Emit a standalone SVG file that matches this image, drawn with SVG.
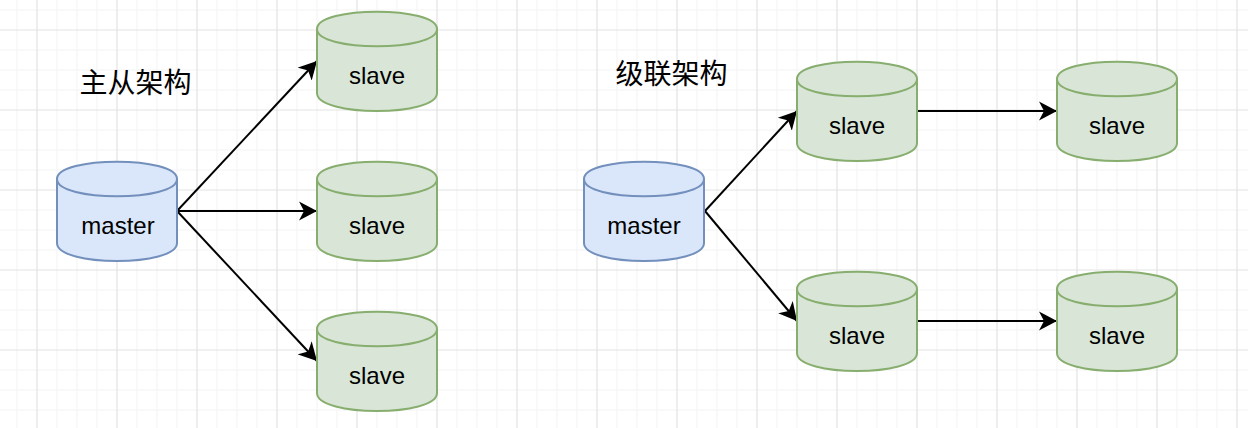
<svg xmlns="http://www.w3.org/2000/svg" width="1248" height="428" viewBox="0 0 1248 428">
<defs>
<style>
.minor{stroke:#f7f7f7;stroke-width:1.5;fill:none}
.major{stroke:#e3e3e3;stroke-width:1.2;fill:none}
.m{fill:#dae6f9;stroke:#7390bd;stroke-width:2}
.s{fill:#d9e6d7;stroke:#87ae6e;stroke-width:2}
.cyl-m{fill:none;stroke:#7390bd;stroke-width:2}
.cyl-s{fill:none;stroke:#87ae6e;stroke-width:2}
.l{font-family:"Liberation Sans",Arial,sans-serif;font-size:24px;fill:#000;text-anchor:middle}
.t{font-family:"Noto Sans CJK SC","Noto Sans",sans-serif;font-size:28px;fill:#000;text-anchor:middle}
.e{stroke:#000;stroke-width:2;fill:none;marker-end:url(#a)}
</style>
<marker id="a" markerUnits="userSpaceOnUse" markerWidth="20" markerHeight="20" viewBox="0 0 20 20" refX="18" refY="10" orient="auto"><path d="M0 0.500 L18 10 L0 19.500 L5 10 Z" fill="#000"/></marker>
</defs>
<rect width="1248" height="428" fill="#fff"/>
<path class="minor" d="M17 0V428M57 0V428M77 0V428M97 0V428M137 0V428M157 0V428M177 0V428M217 0V428M237 0V428M257 0V428M297 0V428M317 0V428M337 0V428M377 0V428M397 0V428M417 0V428M457 0V428M477 0V428M497 0V428M537 0V428M557 0V428M577 0V428M617 0V428M637 0V428M657 0V428M697 0V428M717 0V428M737 0V428M777 0V428M797 0V428M817 0V428M857 0V428M877 0V428M897 0V428M937 0V428M957 0V428M977 0V428M1017 0V428M1037 0V428M1057 0V428M1097 0V428M1117 0V428M1137 0V428M1177 0V428M1197 0V428M1217 0V428M0 10H1248M0 50H1248M0 70H1248M0 90H1248M0 130H1248M0 150H1248M0 170H1248M0 210H1248M0 230H1248M0 250H1248M0 290H1248M0 310H1248M0 330H1248M0 370H1248M0 390H1248M0 410H1248"/>
<path class="major" d="M37 0V428M117 0V428M197 0V428M277 0V428M357 0V428M437 0V428M517 0V428M597 0V428M677 0V428M757 0V428M837 0V428M917 0V428M997 0V428M1077 0V428M1157 0V428M1237 0V428M0 30H1248M0 110H1248M0 190H1248M0 270H1248M0 350H1248"/>
<g id="connectors">
<path class="e" d="M177 211L317 61"/>
<path class="e" d="M177 211H317"/>
<path class="e" d="M177 211L317 361"/>
<path class="e" d="M705 211L797 111"/>
<path class="e" d="M705 211L797 321"/>
<path class="e" d="M917 111H1057"/>
<path class="e" d="M917 321H1057"/>
</g>
<g id="title-1"><text class="t" x="135.500" y="93">主从架构</text></g>
<g id="title-2"><text class="t" x="671.500" y="84">级联架构</text></g>
<g id="master-1"><path class="m" d="M57 179C57 156 177 156 177 179V243C177 267 57 267 57 243Z"/><path class="cyl-m" d="M57 179C57 202 177 202 177 179"/><text class="l" x="118" y="234">master</text></g>
<g id="slave-1"><path class="s" d="M317 29C317 6 437 6 437 29V93C437 117 317 117 317 93Z"/><path class="cyl-s" d="M317 29C317 52 437 52 437 29"/><text class="l" x="377" y="84">slave</text></g>
<g id="slave-2"><path class="s" d="M317 179C317 156 437 156 437 179V243C437 267 317 267 317 243Z"/><path class="cyl-s" d="M317 179C317 202 437 202 437 179"/><text class="l" x="377" y="234">slave</text></g>
<g id="slave-3"><path class="s" d="M317 329C317 306 437 306 437 329V393C437 417 317 417 317 393Z"/><path class="cyl-s" d="M317 329C317 352 437 352 437 329"/><text class="l" x="377" y="384">slave</text></g>
<g id="master-2"><path class="m" d="M584 179C584 156 704 156 704 179V243C704 267 584 267 584 243Z"/><path class="cyl-m" d="M584 179C584 202 704 202 704 179"/><text class="l" x="644" y="234">master</text></g>
<g id="slave-4"><path class="s" d="M797 79C797 56 917 56 917 79V143C917 167 797 167 797 143Z"/><path class="cyl-s" d="M797 79C797 102 917 102 917 79"/><text class="l" x="857" y="134">slave</text></g>
<g id="slave-5"><path class="s" d="M1057 79C1057 56 1177 56 1177 79V143C1177 167 1057 167 1057 143Z"/><path class="cyl-s" d="M1057 79C1057 102 1177 102 1177 79"/><text class="l" x="1117" y="134">slave</text></g>
<g id="slave-6"><path class="s" d="M797 289C797 266 917 266 917 289V353C917 377 797 377 797 353Z"/><path class="cyl-s" d="M797 289C797 312 917 312 917 289"/><text class="l" x="857" y="344">slave</text></g>
<g id="slave-7"><path class="s" d="M1057 289C1057 266 1177 266 1177 289V353C1177 377 1057 377 1057 353Z"/><path class="cyl-s" d="M1057 289C1057 312 1177 312 1177 289"/><text class="l" x="1117" y="344">slave</text></g>
</svg>
